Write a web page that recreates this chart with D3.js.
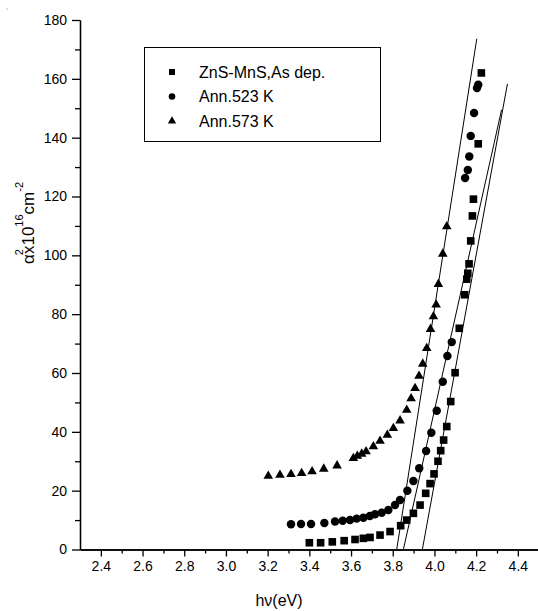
<!DOCTYPE html>
<html lang="en">
<head>
    <meta charset="UTF-8">
    <title>Absorption edge</title>
    <script src="https://d3js.org/d3.v7.min.js"></script>
    <style>
        body { margin: 0; background: #fff; }
        svg { display: block; font-family: Arial, "Liberation Sans", sans-serif; }
        .axis path, .axis line { stroke: #000; stroke-width: 1.3px; }
        .axis text { font-size: 14px; fill: #000; }
        .fit { stroke: #000; stroke-width: 1px; fill: none; }
    </style>
</head>
<body>
    <svg width="538" height="611"></svg>
    <script>
        // ZnS-MnS as deposited (squares)
        const asDepX = [3.40, 3.454, 3.51, 3.567, 3.619, 3.659, 3.691, 3.739, 3.787, 3.838, 3.867, 3.899, 3.931, 3.958, 3.979, 3.998, 4.017, 4.030, 4.044, 4.059, 4.078, 4.099, 4.119, 4.145, 4.155, 4.160, 4.166, 4.174, 4.182, 4.187, 4.210, 4.225];
        const asDepY = [2.3, 2.3, 2.6, 3.0, 3.4, 3.8, 4.1, 4.9, 6.1, 8.1, 10.0, 12.3, 15.1, 19.1, 22.4, 25.7, 30.0, 33.6, 37.2, 41.8, 50.3, 60.1, 75.2, 86.6, 91.9, 93.9, 97.1, 104.9, 113.4, 119.1, 137.9, 162.0];

        // annealed 523 K (circles)
        const ann523X = [3.312, 3.36, 3.408, 3.472, 3.523, 3.56, 3.595, 3.627, 3.659, 3.69, 3.715, 3.747, 3.779, 3.811, 3.835, 3.87, 3.899, 3.927, 3.96, 3.985, 4.011, 4.040, 4.062, 4.083, 4.147, 4.160, 4.167, 4.174, 4.19, 4.204, 4.21];
        const ann523Y = [8.6, 8.7, 8.7, 9.0, 9.5, 9.8, 10.0, 10.5, 10.8, 11.4, 12.0, 12.5, 13.4, 15.1, 16.8, 20.0, 23.3, 27.6, 33.5, 39.7, 47.2, 57.0, 65.8, 70.5, 126.3, 129.0, 133.6, 140.6, 148.4, 156.9, 158.0];

        // annealed 573 K (triangles)
        const ann573X = [3.203, 3.259, 3.312, 3.363, 3.413, 3.469, 3.533, 3.611, 3.630, 3.651, 3.672, 3.707, 3.739, 3.774, 3.803, 3.835, 3.867, 3.888, 3.907, 3.926, 3.944, 3.963, 3.981, 3.995, 4.008, 4.019, 4.040, 4.059];
        const ann573Y = [25.0, 25.3, 25.6, 25.9, 26.5, 27.4, 28.5, 31.0, 31.8, 32.5, 33.3, 35.0, 36.9, 38.9, 41.2, 43.8, 47.4, 51.3, 54.8, 59.0, 63.1, 68.4, 74.9, 79.2, 83.2, 90.2, 100.5, 109.8];

        // straight-line extrapolations to the energy axis: [x0, y0, x1, y1]
        const fitLines = [
            [3.819, 0, 4.203, 173.6],
            [3.851, 0, 4.322, 149.5],
            [3.942, 0, 4.350, 158.3]
        ];

        const legendLabels = ["ZnS-MnS,As dep.", "Ann.523 K", "Ann.573 K"];
        const xMajor = [2.4, 2.6, 2.8, 3.0, 3.2, 3.4, 3.6, 3.8, 4.0, 4.2, 4.4];
        const xMinor = [2.5, 2.7, 2.9, 3.1, 3.3, 3.5, 3.7, 3.9, 4.1, 4.3];
        const yMajor = [0, 20, 40, 60, 80, 100, 120, 140, 160, 180];
        const yMinor = [10, 30, 50, 70, 90, 110, 130, 150, 170];

        const svg = d3.select("svg");

        const x = d3.scaleLinear().domain([2.3, 4.5]).range([80, 538.7]);
        const y = d3.scaleLinear().domain([0, 180]).range([549.5, 20]);

        // axes
        svg.append("g")
            .attr("class", "axis")
            .attr("transform", "translate(0,549.5)")
            .call(d3.axisBottom(x).tickValues(xMinor).tickSize(4).tickFormat("").tickSizeOuter(0));
        svg.append("g")
            .attr("class", "axis")
            .attr("transform", "translate(0,549.5)")
            .call(d3.axisBottom(x).tickValues(xMajor).tickSize(7).tickPadding(5)
                .tickFormat(d3.format(".1f")).tickSizeOuter(0));

        svg.append("g")
            .attr("class", "axis")
            .attr("transform", "translate(80,0)")
            .call(d3.axisLeft(y).tickValues(yMinor).tickSize(5).tickFormat("").tickSizeOuter(0));
        svg.append("g")
            .attr("class", "axis")
            .attr("transform", "translate(80,0)")
            .call(d3.axisLeft(y).tickValues(yMajor).tickSize(8).tickPadding(5).tickSizeOuter(0));

        // fit lines
        svg.append("g").selectAll("line")
            .data(fitLines)
            .enter().append("line")
            .attr("class", "fit")
            .attr("x1", d => x(d[0]))
            .attr("y1", d => y(d[1]))
            .attr("x2", d => x(d[2]))
            .attr("y2", d => y(d[3]));

        const series = [
            { xs: asDepX, ys: asDepY, shape: d3.symbolSquare, size: 58 },
            { xs: ann523X, ys: ann523Y, shape: d3.symbolCircle, size: 56 },
            { xs: ann573X, ys: ann573Y, shape: d3.symbolTriangle, size: 40 }
        ];

        series.forEach(s => {
            const pts = s.xs.map((v, i) => [v, s.ys[i]]);
            svg.append("g").selectAll("path")
                .data(pts)
                .enter().append("path")
                .attr("d", d3.symbol(s.shape, s.size))
                .attr("transform", d => `translate(${x(d[0])},${y(d[1])})`)
                .attr("fill", "#000");
        });

        // legend
        const legend = svg.append("g");
        legend.append("rect")
            .attr("x", 144.5).attr("y", 47.5)
            .attr("width", 236).attr("height", 94)
            .attr("fill", "#fff").attr("stroke", "#000").attr("stroke-width", 1);

        const legendSizes = [36, 34, 30];
        legendLabels.forEach((label, i) => {
            const cy = 72 + i * 24.5;
            legend.append("path")
                .attr("d", d3.symbol(series[i].shape, legendSizes[i]))
                .attr("transform", `translate(172,${cy})`)
                .attr("fill", "#000");
            legend.append("text")
                .attr("x", 199).attr("y", cy + 5.5)
                .attr("font-size", 16)
                .text(label);
        });

        // axis titles
        svg.append("text")
            .attr("x", 279).attr("y", 606)
            .attr("text-anchor", "middle")
            .attr("font-size", 16)
            .text("hν(eV)");

        const yTitle = svg.append("text")
            .attr("transform", "translate(33.5,264) rotate(-90)")
            .attr("text-anchor", "start")
            .attr("font-size", 17);
        yTitle.append("tspan").text("α");
        yTitle.append("tspan").attr("font-size", 11).attr("dy", -11).attr("dx", -1).text("2");
        yTitle.append("tspan").attr("dy", 11).attr("dx", -5).text("x10");
        yTitle.append("tspan").attr("font-size", 11).attr("dy", -11).text("16");
        yTitle.append("tspan").attr("dy", 11).text("cm");
        yTitle.append("tspan").attr("font-size", 11).attr("dy", -11).text("-2");

        // stray speck in the top-left corner of the original
        svg.append("circle").attr("cx", 7).attr("cy", 9).attr("r", 0.6).attr("fill", "#666");
    </script>
</body>
</html>
